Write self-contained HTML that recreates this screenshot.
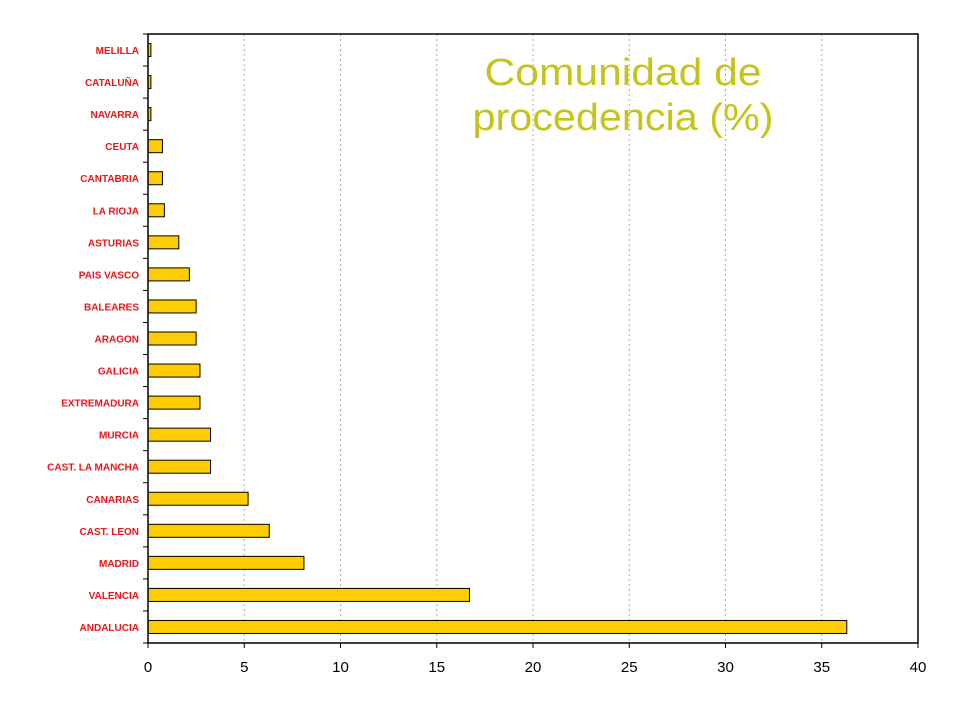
<!DOCTYPE html>
<html><head><meta charset="utf-8"><style>
html,body{margin:0;padding:0;background:#fff;}
svg{display:block;font-family:"Liberation Sans",sans-serif;}
</style></head><body>
<svg id="chart" width="960" height="720" viewBox="0 0 960 720" xmlns="http://www.w3.org/2000/svg">
<rect x="0" y="0" width="960" height="720" fill="#fff"/>
<g id="grid"></g>
<g id="bars"></g>
<g id="axes"></g>
<text x="623" y="85" text-anchor="middle" font-size="38" fill="#c4c41a" textLength="277" lengthAdjust="spacingAndGlyphs">Comunidad de</text>
<text x="623" y="130" text-anchor="middle" font-size="38" fill="#c4c41a" textLength="301" lengthAdjust="spacingAndGlyphs">procedencia (%)</text>
</svg>
<script>
const categories = ["MELILLA","CATALUÑA","NAVARRA","CEUTA","CANTABRIA","LA RIOJA","ASTURIAS","PAIS VASCO","BALEARES","ARAGON","GALICIA","EXTREMADURA","MURCIA","CAST. LA MANCHA","CANARIAS","CAST. LEON","MADRID","VALENCIA","ANDALUCIA"];
const values = [0.15,0.15,0.15,0.75,0.75,0.85,1.6,2.15,2.5,2.5,2.7,2.7,3.25,3.25,5.2,6.3,8.1,16.7,36.3];
const xTicks = [0,5,10,15,20,25,30,35,40];

const NS="http://www.w3.org/2000/svg";
const L=148,R=918,T=34,B=643,XMAX=40;
const x=v=>L+(v/XMAX)*(R-L);
const band=(B-T)/categories.length;
const y=i=>T+i*band;
function mk(tag,attrs,parent){const e=document.createElementNS(NS,tag);for(const k in attrs)e.setAttribute(k,attrs[k]);parent.appendChild(e);return e;}
const grid=document.getElementById('grid'),bars=document.getElementById('bars'),axes=document.getElementById('axes');

xTicks.forEach(t=>{
  if(t>0&&t<XMAX){const g=mk('line',{x1:x(t),x2:x(t),y1:T,y2:B,stroke:'#aaa','stroke-dasharray':'2,3'},grid);
  
  }
  const tk=mk('line',{x1:x(t),x2:x(t),y1:B,y2:B+5,stroke:'#000'},axes);
  
  
  const tl=mk('text',{x:x(t),y:B+29,'text-anchor':'middle','font-size':'15',fill:'#000'},axes);
  tl.textContent=t;
  
  
});

categories.forEach((c,i)=>{
  const cy=y(i)+band/2;
  const r=mk('rect',{x:L,y:cy-6.5,width:Math.max(0,x(values[i])-L),height:13,fill:'#ffcc00',stroke:'#000','stroke-width':'1'},bars);
  
  
  const t=mk('text',{x:139,y:cy+4,'text-anchor':'end','font-size':'10','font-weight':'bold',fill:'#e8161b'},axes);
  t.textContent=c;
  
  
});
for(let i=0;i<=categories.length;i++){
  const tk=mk('line',{x1:L-5,x2:L,y1:y(i),y2:y(i),stroke:'#000'},axes);
  
  
}
const frame=mk('rect',{x:L,y:T,width:R-L,height:B-T,fill:'none',stroke:'#000','stroke-width':'1.5'},axes);


</script>
</body></html>
